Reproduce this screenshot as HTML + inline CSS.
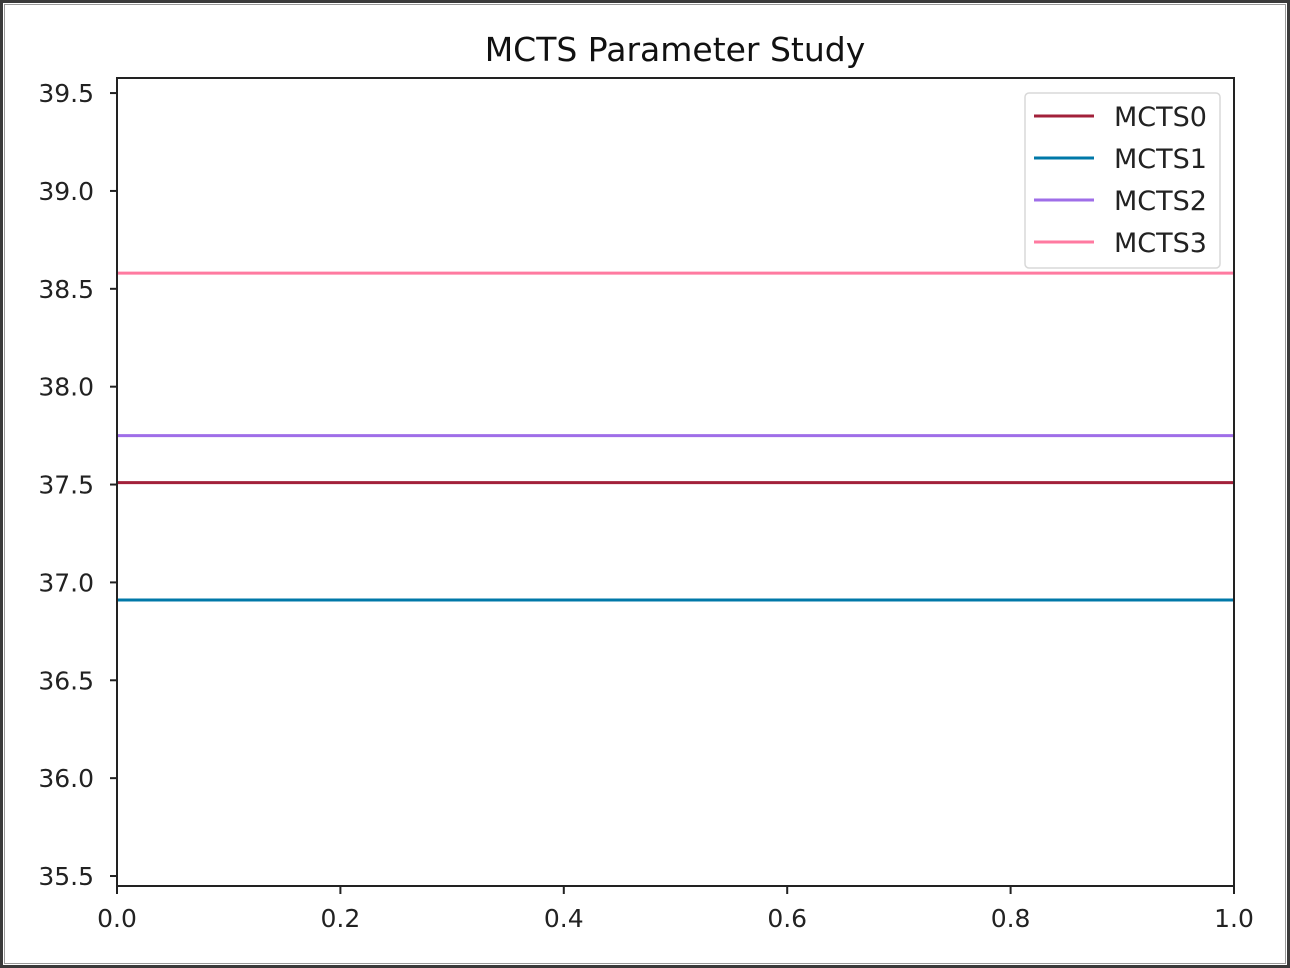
<!DOCTYPE html>
<html><head><meta charset="utf-8"><style>
html,body{margin:0;padding:0;background:#fff;}
svg{display:block;font-family:"DejaVu Sans","Liberation Sans",sans-serif;}
</style></head><body>
<svg id="chart" width="1290" height="968">
<rect x="1.5" y="1.5" width="1287" height="965" fill="#fff" stroke="#3a3a3a" stroke-width="3"/>
<rect x="4.5" y="4.5" width="1281" height="959" fill="none" stroke="#9a9a9a" stroke-width="1"/>
<text x="675" y="61" font-size="33" text-anchor="middle" fill="#111">MCTS Parameter Study</text>
<g id="lines"></g>
<rect x="117" y="78" width="1117" height="808" fill="none" stroke="#222" stroke-width="2"/>
<g id="yticks"></g><g id="xticks"></g>
<g id="legend"></g>
</svg>
<script>
const seriesNames=["MCTS0","MCTS1","MCTS2","MCTS3"];
const seriesValues=[37.51,36.91,37.75,38.58];
const seriesColors=["#a2203a","#0078a8","#9f6ee8","#ff7aa0"];
const yTicks=["35.5","36.0","36.5","37.0","37.5","38.0","38.5","39.0","39.5"];
const xTicks=["0.0","0.2","0.4","0.6","0.8","1.0"];
const X0=117,X1=1234,Ytop=78,Ybot=886;
const yMin=35.449,yMax=39.577,xMin=0,xMax=1;
const ys=v=>Ybot-(v-yMin)/(yMax-yMin)*(Ybot-Ytop);
const xs=v=>X0+(v-xMin)/(xMax-xMin)*(X1-X0);
const NS="http://www.w3.org/2000/svg";
function mk(t,a,p){const e=document.createElementNS(NS,t);for(const k in a)e.setAttribute(k,a[k]);p.appendChild(e);return e;}
const L=document.getElementById('lines');
seriesValues.forEach((v,i)=>{
 const e=mk('line',{x1:xs(0),x2:xs(1),y1:ys(v),y2:ys(v),stroke:seriesColors[i],'stroke-width':3},L);
 
 
});
const YT=document.getElementById('yticks');
yTicks.forEach(t=>{
 const y=ys(parseFloat(t));
 const l=mk('line',{x1:X0-7,x2:X0,y1:y,y2:y,stroke:'#222','stroke-width':2},YT);
 
 
 const tx=mk('text',{x:X0-23,y:y+9,'font-size':25,'text-anchor':'end',fill:'#222'},YT);
 tx.textContent=t;
 
 
});
const XT=document.getElementById('xticks');
xTicks.forEach(t=>{
 const x=xs(parseFloat(t));
 const l=mk('line',{x1:x,x2:x,y1:Ybot,y2:Ybot+8,stroke:'#222','stroke-width':2},XT);
 
 
 const tx=mk('text',{x:x,y:Ybot+41,'font-size':25,'text-anchor':'middle',fill:'#222'},XT);
 tx.textContent=t;
 
 
});
const LG=document.getElementById('legend');
const box=mk('rect',{x:1025,y:93,width:195,height:175,rx:4,fill:'#fff','fill-opacity':0.85,stroke:'#d8d8d8','stroke-width':1.5},LG);


seriesNames.forEach((n,i)=>{
 const y=116+i*42;
 const l=mk('line',{x1:1034,x2:1094,y1:y,y2:y,stroke:seriesColors[i],'stroke-width':3},LG);
 
 
 const tx=mk('text',{x:1114,y:y+10,'font-size':27,fill:'#222'},LG);
 tx.textContent=n;
 
 
});
</script>
</body></html>
